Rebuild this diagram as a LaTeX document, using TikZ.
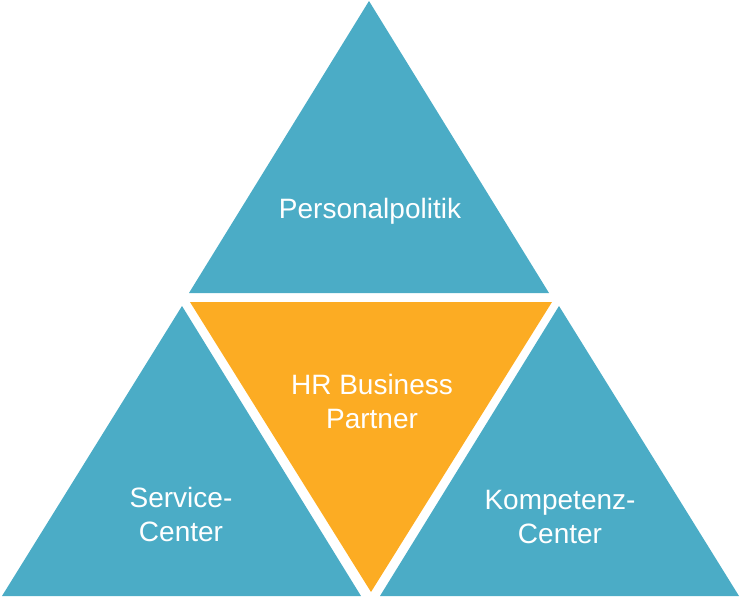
\documentclass[tikz,border=0pt]{standalone}
\usepackage{fontspec}
\setmainfont{Liberation Sans}
\definecolor{hrblue}{HTML}{4BACC6}
\definecolor{hrorange}{HTML}{FCAC23}
\tikzset{
  label text/.style={text=white,align=center,inner sep=0pt,
    font=\fontsize{28}{34}\selectfont}
}
\begin{document}
\begin{tikzpicture}[x=1pt,y=-1pt]
    \useasboundingbox (0,0) rectangle (740,597);
    \fill[hrblue] (369,1) -- (189,293) -- (549,293) -- cycle;
    \fill[hrorange] (190,302) -- (552,302) -- (371,592) -- cycle;
    \fill[hrblue] (182,306) -- (2,596) -- (361,596) -- cycle;
    \fill[hrblue] (559,306) -- (380,596) -- (739,596) -- cycle;

    \node[label text] (personal) at (370,211) {Personalpolitik};
    \node[label text] (hrbp) at (372,401) {HR Business\\Partner};
    \node[label text] (service) at (181,514) {Service-\\Center};
    \node[label text] (kompetenz) at (560,517) {Kompetenz-\\Center};
\end{tikzpicture}
\end{document}
